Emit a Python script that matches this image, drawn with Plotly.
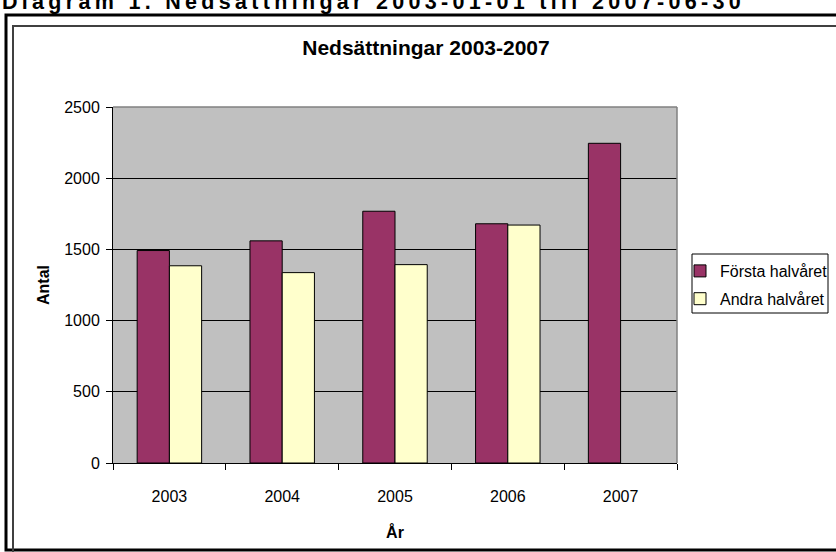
import plotly.graph_objects as go

years = ["2003", "2004", "2005", "2006", "2007"]
forsta = [1492, 1560, 1768, 1680, 2245]
andra = [1385, 1337, 1393, 1671, None]
series_names = ["Första halvåret", "Andra halvåret"]
y_ticks = [0, 500, 1000, 1500, 2000, 2500]

W, H = 836, 552
L, R, T, B = 113, 159, 107, 89
PW, PH = W - L - R, H - T - B


def px(x):
    return (x - L) / PW


def py(y):
    return (H - B - y) / PH


FONT = "Liberation Sans, Arial, sans-serif"

fig = go.Figure()
fig.add_trace(go.Bar(x=years, y=forsta, name=series_names[0], legendgroup="a",
                     marker=dict(color="#993366", line=dict(color="black", width=1))))
fig.add_trace(go.Bar(x=years, y=andra, name=series_names[1], legendgroup="b",
                     marker=dict(color="#FFFFCC", line=dict(color="black", width=1))))

top_text = "Diagram 1. Nedsättningar 2003-01-01 till 2007-06-30"
spaced = "\u2009".join(list(top_text))

shapes = [
    # outer black frame
    dict(type="rect", xref="paper", yref="paper", x0=px(6), x1=px(900), y0=py(550), y1=py(15),
         line=dict(color="black", width=3), fillcolor="rgba(0,0,0,0)", layer="below"),
    # inner chart border
    dict(type="rect", xref="paper", yref="paper", x0=px(13), x1=px(900), y0=py(600), y1=py(26),
         line=dict(color="#404040", width=2), fillcolor="rgba(0,0,0,0)", layer="below"),
    # plot-area top and right border
    dict(type="line", xref="paper", yref="paper", x0=0, x1=1, y0=1, y1=1,
         line=dict(color="#808080", width=1.5), layer="above"),
    dict(type="line", xref="paper", yref="paper", x0=1, x1=1, y0=0, y1=1,
         line=dict(color="#808080", width=1.5), layer="above"),
    # legend box
    dict(type="rect", xref="paper", yref="paper", x0=px(692), x1=px(828), y0=py(313), y1=py(254),
         line=dict(color="black", width=1), fillcolor="rgba(0,0,0,0)", layer="below"),
]

fig.update_layout(
    width=W, height=H,
    margin=dict(l=L, r=R, t=T, b=B, pad=0, autoexpand=False),
    paper_bgcolor="white",
    plot_bgcolor="#C0C0C0",
    barmode="group",
    bargap=1.5 / 3.5,
    bargroupgap=0,
    font=dict(family=FONT, size=16, color="black"),
    title=dict(text="<b>Nedsättningar 2003-2007</b>", x=426 / W, y=1 - 48 / H,
               xanchor="center", yanchor="middle", font=dict(size=21, family=FONT)),
    showlegend=True,
    legend=dict(x=px(680), y=py(254), xanchor="left", yanchor="top",
                bgcolor="rgba(0,0,0,0)", borderwidth=0, font=dict(size=16, family=FONT),
                traceorder="grouped", tracegroupgap=4),
    shapes=shapes,
    annotations=[
        dict(text="<b>" + spaced + "</b>", xref="paper", yref="paper", x=px(0), y=py(2),
             xanchor="left", yanchor="middle", showarrow=False,
             font=dict(size=21.5, family=FONT, color="black")),
    ],
)

fig.update_xaxes(
    type="category",
    tickson="boundaries",
    ticks="outside", ticklen=6, tickcolor="black", tickwidth=1,
    showline=True, linecolor="black", linewidth=1,
    showgrid=False,
    ticklabelstandoff=19,
    tickfont=dict(size=16, family=FONT),
    title=dict(text="<b>År</b>", standoff=22, font=dict(size=16, family=FONT)),
)
fig.update_yaxes(
    range=[0, 2500],
    tickvals=y_ticks,
    ticks="outside", ticklen=6, tickcolor="black", tickwidth=1,
    showline=True, linecolor="black", linewidth=1,
    showgrid=True, gridcolor="black", gridwidth=1,
    zeroline=False,
    ticklabelstandoff=3,
    tickfont=dict(size=16, family=FONT),
    title=dict(text="<b>Antal</b>", standoff=10, font=dict(size=16, family=FONT)),
)

fig.write_html("out.html", config={"displayModeBar": False},
               post_script="document.body.style.margin='0';")
